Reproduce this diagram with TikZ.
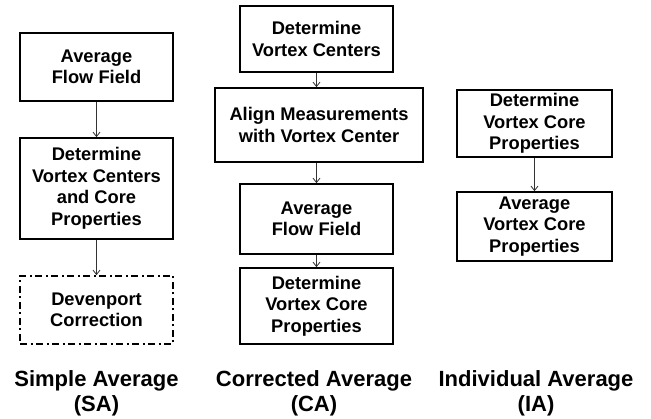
\documentclass[tikz,border=0pt]{standalone}
\usepackage{fontspec}
\setmainfont{Liberation Sans}
\usetikzlibrary{arrows.meta}
\begin{document}
\begin{tikzpicture}[x=1pt,y=-1pt,
  box/.style={draw=black, line width=1.6pt, rectangle, align=center, inner sep=0pt,
    font=\fontsize{18.3}{21.5}\selectfont\bfseries},
  dashbox/.style={box, dash pattern=on 7pt off 3.5pt on 2pt off 3.5pt},
  flow/.style={draw=black!80, line width=0.8pt, -{Straight Barb[length=4.5pt,width=7pt]}},
  caption/.style={align=center, inner sep=0pt, anchor=base,
    font=\fontsize{22}{24.5}\selectfont\bfseries}]
\useasboundingbox (0,0) rectangle (651,419);
% Simple Average
\node[box, minimum width=153pt, minimum height=68pt] (sa1) at (96.5,67) {Average\\Flow Field};
\node[box, minimum width=153pt, minimum height=101pt] (sa2) at (96.5,188.5) {Determine\\Vortex Centers\\and Core\\Properties};
\node[dashbox, minimum width=153pt, minimum height=68pt] (sa3) at (96.5,310) {Devenport\\Correction};
% Corrected Average
\node[box, minimum width=153pt, minimum height=66pt] (ca1) at (316.5,39) {Determine\\Vortex Centers};
\node[box, minimum width=208pt, minimum height=74pt] (ca2) at (319,125) {Align Measurements\\with Vortex Center};
\node[box, minimum width=153pt, minimum height=70pt] (ca3) at (316.5,219) {Average\\Flow Field};
\node[box, minimum width=153pt, minimum height=76pt] (ca4) at (316.5,306) {Determine\\Vortex Core\\Properties};
% Individual Average
\node[box, minimum width=155pt, minimum height=67pt] (ia1) at (534.5,123.5) {Determine\\Vortex Core\\Properties};
\node[box, minimum width=155pt, minimum height=69pt] (ia2) at (534.5,226.5) {Average\\Vortex Core\\Properties};
% arrows
\draw[flow] (sa1.south) -- (sa2.north);
\draw[flow] (sa2.south) -- (sa3.north);
\draw[flow] (ca1.south) -- (ca1.south |- ca2.north);
\draw[flow] (ca1.south |- ca2.south) -- (ca3.north);
\draw[flow] (ca3.south) -- (ca4.north);
\draw[flow] (ia1.south) -- (ia2.north);
% captions
\node[caption] (capsa) at (96.5,411.5) {Simple Average\\(SA)};
\node[caption] (capca) at (314,411.5) {Corrected Average\\(CA)};
\node[caption] (capia) at (536,411.5) {Individual Average\\(IA)};
\end{tikzpicture}
\end{document}
